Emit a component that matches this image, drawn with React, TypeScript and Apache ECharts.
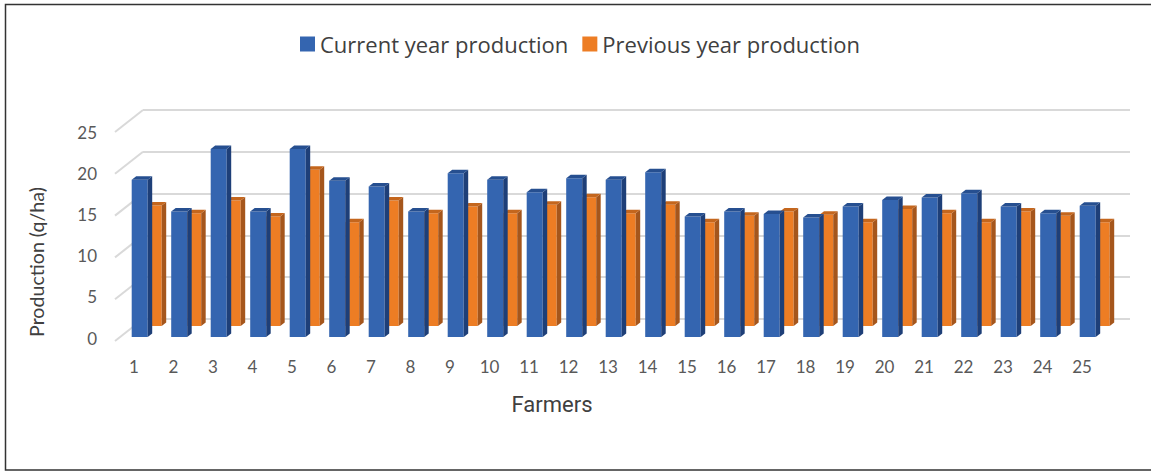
import React, { useEffect, useRef } from "react";
import * as echarts from "echarts";

const farmers = ["1","2","3","4","5","6","7","8","9","10","11","12","13","14","15","16","17","18","19","20","21","22","23","24","25"];
const currentYear = [18.8,15.0,22.5,15.0,22.5,18.7,18.0,15.0,19.6,18.8,17.3,19.0,18.8,19.7,14.4,15.0,14.7,14.3,15.6,16.4,16.7,17.2,15.6,14.8,15.7];
const previousYear = [14.4,13.5,15.0,13.1,18.7,12.4,15.0,13.5,14.3,13.5,14.5,15.4,13.5,14.5,12.4,13.2,13.7,13.3,12.4,14.0,13.5,12.4,13.7,13.2,12.4];
const yTicks = [0,5,10,15,20,25];

const FONT = "Lato, 'Open Sans', sans-serif";
const LEGEND_FONT = "'Open Sans', sans-serif";
const DX = 4.5;
const DY = 3.5;

function bar3d(colors: string[], xOff: number, w: number, yOff: number) {
  return (params: any, api: any) => {
    const c = api.coord([api.value(0), api.value(1)]);
    const b = api.coord([api.value(0), 0]);
    const x0 = c[0] + xOff, x1 = x0 + w;
    const yt = c[1] + yOff, yb = b[1] + yOff;
    return {
      type: "group",
      children: [
        { type: "polygon", shape: { points: [[x0, yt], [x1, yt], [x1, yb], [x0, yb]] }, style: { fill: colors[0] } },
        { type: "polygon", shape: { points: [[x1, yt], [x1 + DX, yt - DY], [x1 + DX, yb - DY], [x1, yb]] }, style: { fill: colors[1] } },
        { type: "polygon", shape: { points: [[x0, yt], [x0 + DX, yt - DY], [x1 + DX, yt - DY], [x1, yt]] }, style: { fill: colors[2] } },
      ],
    };
  };
}

export default function App() {
  const ref = useRef<HTMLDivElement>(null);
  useEffect(() => {
    const chart = echarts.init(ref.current!, undefined, { renderer: "svg" });
    chart.setOption({
      animation: false,
      backgroundColor: "#ffffff",
      graphic: [
        { type: "polyline", z: -1, shape: { points: [[1151, 4.5], [5.5, 4.5], [5.5, 470], [1151, 470]] }, style: { fill: "none", stroke: "#333333", lineWidth: 1.5 } },
      ],
      legend: {
        left: 295,
        top: 28,
        icon: "rect",
        itemWidth: 15,
        itemHeight: 15,
        itemGap: 14,
        data: ["Current year production", "Previous year production"],
        textStyle: { fontFamily: LEGEND_FONT, fontSize: 22, color: "#404040", padding: [0, 0, 0, 0] },
      },
      grid: [
        { left: 143, width: 987, top: 110, height: 209 },
        { left: 114.25, width: 987.5, top: 128, height: 209 },
        { left: 115, width: 987, top: 132, height: 206 },
      ],
      xAxis: [
        { gridIndex: 0, type: "category", data: farmers, show: false },
        {
          gridIndex: 1, type: "category", data: farmers,
          axisLine: { show: false }, axisTick: { show: false },
          axisLabel: { fontFamily: FONT, fontSize: 17, color: "#595959", margin: 21, interval: 0 },
          name: "Farmers", nameLocation: "middle", nameGap: 56,
          nameTextStyle: { fontFamily: "Roboto, sans-serif", fontSize: 22, color: "#404040", padding: [0, 112, 0, 0] },
        },
        { gridIndex: 2, type: "category", data: farmers, show: false },
      ],
      yAxis: [
        { gridIndex: 0, type: "value", min: 0, max: 25, interval: 5,
          axisLine: { show: false }, axisTick: { show: false }, axisLabel: { show: false },
          splitLine: { show: true, lineStyle: { color: "#d9d9d9", width: 2 } } },
        { gridIndex: 1, type: "value", min: 0, max: 25, interval: 5, show: false, splitLine: { show: false } },
        { gridIndex: 2, type: "value", min: 0, max: 25, interval: 5,
          axisLine: { show: false }, axisTick: { show: false }, splitLine: { show: false },
          axisLabel: { fontFamily: FONT, fontSize: 17, color: "#595959", margin: 18 },
          name: "Production (q/ha)", nameLocation: "middle", nameGap: 69,
          nameTextStyle: { fontFamily: FONT, fontSize: 19.6, color: "#404040", padding: [0, 54, 0, 0] } },
      ],
      series: [
        {
          name: "depth", type: "custom", xAxisIndex: 0, yAxisIndex: 0, silent: true, clip: false, z: 1,
          data: yTicks.map((v) => [0, v]),
          encode: { x: 0, y: 1 },
          renderItem: (p: any, api: any) => {
            const y = api.coord([0, api.value(1)])[1];
            return { type: "line", shape: { x1: 115, y1: y + 22, x2: 143, y2: y }, style: { stroke: "#d9d9d9", lineWidth: 2, fill: "none" } };
          },
        },
        {
          name: "Previous year production", type: "custom", xAxisIndex: 1, yAxisIndex: 1, clip: false, z: 2,
          itemStyle: { color: "#ED7D24" },
          data: previousYear.map((v, i) => [i, v]),
          encode: { x: 0, y: 1 },
          renderItem: bar3d(["#ED7D24", "#A5561C", "#C4661D"], 14, 13.7, -11),
        },
        {
          name: "Current year production", type: "custom", xAxisIndex: 1, yAxisIndex: 1, clip: false, z: 3,
          itemStyle: { color: "#3465B0" },
          data: currentYear.map((v, i) => [i, v]),
          encode: { x: 0, y: 1 },
          renderItem: bar3d(["#3465B0", "#1E3F78", "#264F90"], -2.3, 16, 0),
        },
      ],
    });
    return () => chart.dispose();
  }, []);
  return <div ref={ref} style={{ position: "absolute", left: 0, top: 0, width: 1151, height: 472 }} />;
}
